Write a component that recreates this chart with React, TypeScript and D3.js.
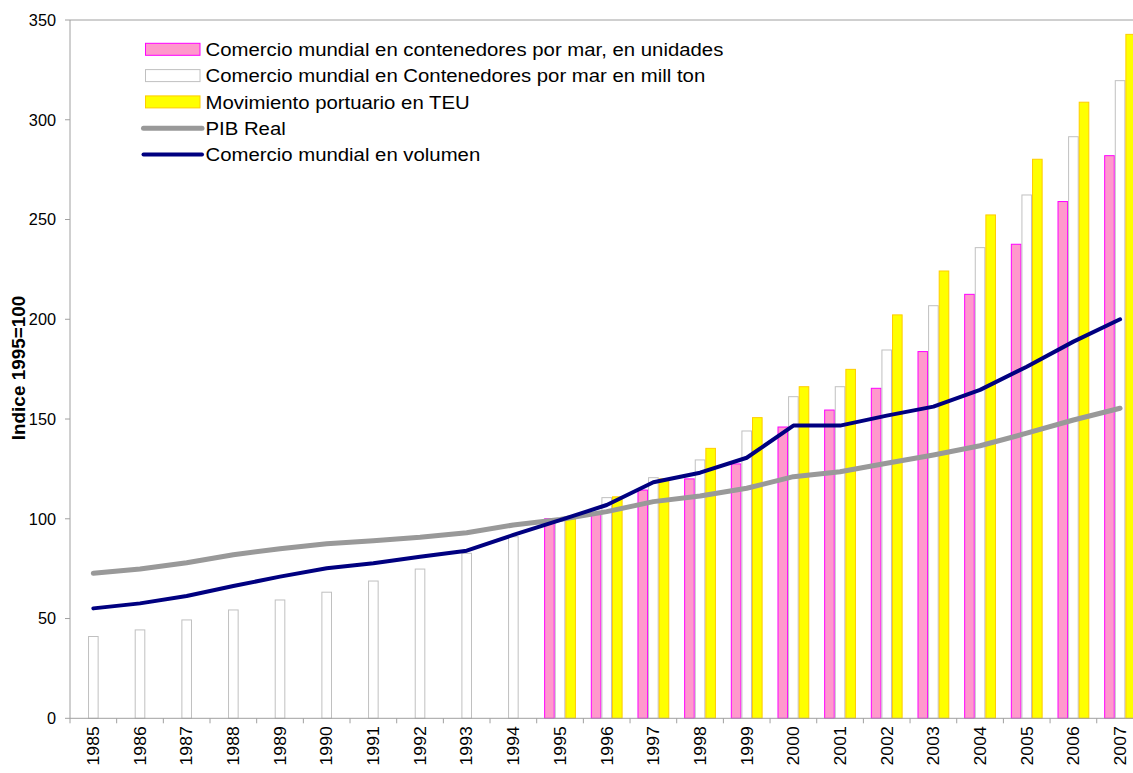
import React from "react";
import * as d3 from "d3";

const years = [
  "1985","1986","1987","1988","1989","1990","1991","1992","1993","1994","1995","1996",
  "1997","1998","1999","2000","2001","2002","2003","2004","2005","2006","2007",
];
const contUnidades: (number | null)[] = [
  null,null,null,null,null,null,null,null,null,null,100,103,
  114.4,120,127.5,146,154.5,165.4,183.8,212.5,237.6,259,282,
];
const contMillTon: (number | null)[] = [
  41,44.3,49.3,54.3,59.3,63.2,68.8,74.8,82.7,91,100,110.6,
  120.6,129.5,144,161.2,166.2,184.6,206.8,235.9,262.3,291.5,319.6,
];
const puertoTEU: (number | null)[] = [
  null,null,null,null,null,null,null,null,null,null,100,111,
  120,135.3,150.7,166.2,174.9,202.2,224.2,252.3,280.2,308.8,342.8,
];
const pibReal = [
  72.7,74.8,78,82,85,87.5,89,90.7,93,96.9,99.6,103.6,
  108.6,111.4,115.3,121.1,123.6,127.8,132,136.6,142.9,149.5,155.4,
];
const comercioVol = [
  55.1,57.6,61.3,66.3,71,75.2,77.7,81,84,91.9,99.3,106.9,
  118.3,123.1,130.6,146.7,146.7,151.7,156.2,164.6,176.2,188.8,200,
];
const yTicks = [0, 50, 100, 150, 200, 250, 300, 350];

const barSeries = [
  { name: "Comercio mundial en contenedores por mar, en unidades", values: contUnidades, fill: "#FF99CC", stroke: "#FF00FF" },
  { name: "Comercio mundial en Contenedores por mar en mill ton", values: contMillTon, fill: "#FFFFFF", stroke: "#C0C0C0" },
  { name: "Movimiento portuario en TEU", values: puertoTEU, fill: "#FFFF00", stroke: "#FFCC00" },
];
const lineSeries = [
  { name: "PIB Real", values: pibReal, color: "#999999", width: 5 },
  { name: "Comercio mundial en volumen", values: comercioVol, color: "#000080", width: 4 },
];

const W = 1133;
const H = 773;
const left = 70;
const top = 20;
const bottom = 718.3;
const band = 46.67;
const font = "'Liberation Sans', Arial, sans-serif";

export default function App() {
  const x = d3.scaleBand<string>().domain(years).range([left, left + band * years.length]).padding(0);
  const y = d3.scaleLinear().domain([0, 350]).range([bottom, top]);
  const bw = x.bandwidth();
  const barW = 10.6;
  const groupOff = (bw - 3 * barW) / 2;
  const line = d3
    .line<number>()
    .x((_, i) => (x(years[i]) as number) + bw / 2)
    .y((d) => y(d));

  const legendItems = [
    ...barSeries.map((s) => ({ type: "bar", ...s })),
    ...lineSeries.map((s) => ({ type: "line", ...s })),
  ];

  return (
    <svg
      width={W}
      height={H}
      style={{ position: "absolute", left: 0, top: 0, background: "#fff" }}
      fontFamily={font}
    >
      <rect x={0} y={0} width={W} height={H} fill="#fff" />
      {/* top border */}
      <line x1={left} x2={W} y1={top} y2={top} stroke="#A0A0A0" strokeWidth={1} />
      {/* bars */}
      {barSeries.map((s, si) => (
        <g key={s.name}>
          {s.values.map((v, i) =>
            v == null ? null : (
              <rect
                key={i}
                x={(x(years[i]) as number) + groupOff + si * barW + 0.5}
                y={y(v)}
                width={barW - 1}
                height={y(0) - y(v)}
                fill={s.fill}
                stroke={s.stroke}
                strokeWidth={1}
              />
            )
          )}
        </g>
      ))}
      {/* lines */}
      {lineSeries.map((s) => (
        <path
          key={s.name}
          d={line(s.values) || ""}
          fill="none"
          stroke={s.color}
          strokeWidth={s.width}
          strokeLinejoin="round"
          strokeLinecap="round"
        />
      ))}
      {/* y axis */}
      <line x1={left} x2={left} y1={top} y2={bottom} stroke="#A0A0A0" />
      {yTicks.map((t) => (
        <g key={t}>
          <line x1={left - 5} x2={left} y1={y(t)} y2={y(t)} stroke="#A0A0A0" />
          <text x={56} y={y(t)} dy="0.36em" textAnchor="end" fontSize={16.3} fill="#000">
            {t}
          </text>
        </g>
      ))}
      <text
        transform={`translate(25,368) rotate(-90) scale(1.08,1)`}
        textAnchor="middle"
        fontSize={17.5}
        fontWeight="bold"
        fill="#000"
      >
        Indice 1995=100
      </text>
      {/* x axis */}
      <line x1={left} x2={W} y1={bottom} y2={bottom} stroke="#A0A0A0" />
      {years.map((yr) => (
        <line
          key={"t" + yr}
          x1={x(yr) as number}
          x2={x(yr) as number}
          y1={bottom}
          y2={bottom + 5}
          stroke="#A0A0A0"
        />
      ))}
      {years.map((yr) => {
        const cx = (x(yr) as number) + bw / 2;
        return (
          <text
            key={"l" + yr}
            transform={`translate(${cx + 5.8},${bottom + 8}) rotate(-90) scale(1.08,1)`}
            textAnchor="end"
            fontSize={16.3}
            fill="#000"
          >
            {yr}
          </text>
        );
      })}
      {/* legend */}
      {legendItems.map((it: any, i) => {
        const ly = 49.3 + i * 26.3;
        return (
          <g key={it.name}>
            {it.type === "bar" ? (
              <rect x={145.5} y={ly - 6} width={54.5} height={12} fill={it.fill} stroke={it.stroke} strokeWidth={1} />
            ) : (
              <line x1={143.5} x2={202} y1={ly} y2={ly} stroke={it.color} strokeWidth={it.width} strokeLinecap="round" />
            )}
            <text
              transform={`translate(205.5,${ly}) scale(1.1,1)`}
              dy="0.36em"
              fontSize={18.5}
              fill="#000"
            >
              {it.name}
            </text>
          </g>
        );
      })}
    </svg>
  );
}
